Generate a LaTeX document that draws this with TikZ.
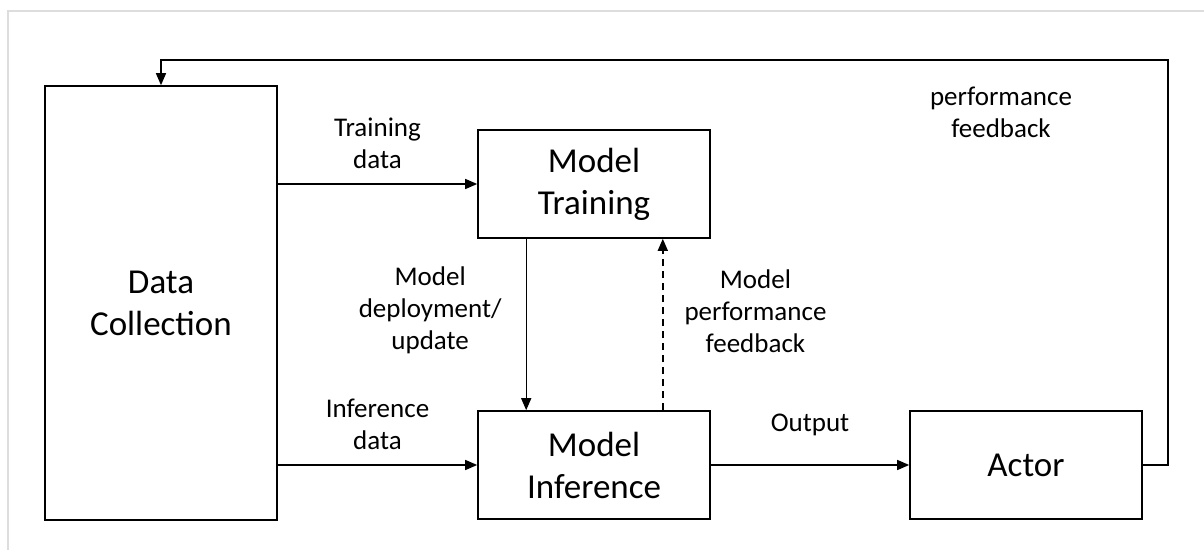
\documentclass[tikz,border=0pt]{standalone}
\usepackage{fontspec}
\setmainfont{Carlito}
\usetikzlibrary{arrows.meta,positioning}
\definecolor{framegray}{HTML}{DDDDDD}

\begin{document}
\begin{tikzpicture}[
    x=0.5pt, y=-0.5pt,
    block/.style={rectangle, draw=black, line width=0.8pt, fill=white,
        minimum width=116pt, minimum height=54pt, align=center,
        font=\fontsize{17.5}{21}\selectfont},
    lbl/.style={align=center, inner sep=0pt, font=\fontsize{13.5}{16}\selectfont},
    arr/.style={-{Triangle[length=6pt, width=5pt]}, line width=0.7pt},
]
\useasboundingbox (0,0) rectangle (1204,550);
% Page frame
\draw[framegray, line width=0.8pt] (1204,11) -- (8,11) -- (8,550);

% Main blocks
\node[block, minimum height=217pt] (collect) at (161,303) {Data\\Collection};
\node[block] (train) at (594,184) {Model\\Training};
\node[block] (infer) at (594,465) {Model\\Inference};
\node[block] (actor) at (1026,465) {Actor};

% Data flow
\draw[arr] (collect.east |- train.west) -- (train.west)
    node[lbl, midway, above=7.5pt] {Training\\data};
\draw[arr] (collect.east |- infer.west) -- (infer.west)
    node[lbl, midway, above=7.5pt] {Inference\\data};
\draw[arr] ([xshift=24.5pt]train.south west) -- ([xshift=24.5pt]infer.north west)
    node[lbl, midway, left=12pt, yshift=7pt] {Model\\deployment/\\update};
\draw[arr, dash pattern=on 3.5pt off 2.5pt] ([xshift=-24pt]infer.north east) -- ([xshift=-24pt]train.south east)
    node[lbl, midway, right=10.5pt, yshift=6.5pt] {Model\\performance\\feedback};
\draw[arr] (infer) -- (actor)
    node[lbl, midway, above=14pt] {Output};

% Feedback loop
\coordinate (fbtop) at (1168,60);
\draw[arr] (actor.east) -| (fbtop) -| (collect.north);
\node[lbl] (fblbl) at (1001,112) {performance\\feedback};
\end{tikzpicture}
\end{document}
